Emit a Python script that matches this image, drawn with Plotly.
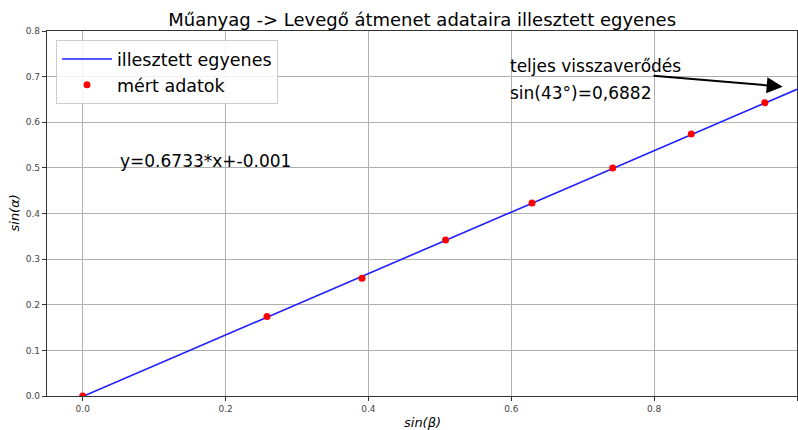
import plotly.graph_objects as go

# measured data
sin_beta = [0.0, 0.258, 0.391, 0.508, 0.629, 0.742, 0.852, 0.955]
sin_alpha = [0.0, 0.174, 0.258, 0.342, 0.423, 0.500, 0.574, 0.643]

# fitted line
slope = 0.6733
intercept = -0.001
fit_x = [0.0, 1.0]
fit_y = [slope * v + intercept for v in fit_x]

x_ticks = [0.0, 0.2, 0.4, 0.6, 0.8, 1.0]
y_ticks = [0.0, 0.1, 0.2, 0.3, 0.4, 0.5, 0.6, 0.7, 0.8]

FONT = "DejaVu Sans"

fig = go.Figure()
fig.add_trace(go.Scatter(x=fit_x, y=fit_y, mode="lines", name="illesztett egyenes",
                         line=dict(color="#1f1fff", width=1.6)))
fig.add_trace(go.Scatter(x=sin_beta, y=sin_alpha, mode="markers", name="mért adatok",
                         marker=dict(color="#ff0000", size=7)))

fig.add_annotation(x=0.05, y=0.515, text="y=0.6733*x+-0.001", showarrow=False,
                   xanchor="left", yanchor="middle", font=dict(size=17, color="black", family=FONT))
fig.add_annotation(x=0.6, y=0.724, text="teljes visszaverődés", showarrow=False,
                   xanchor="left", yanchor="middle", xshift=-3,
                   font=dict(size=17, color="black", family=FONT))
fig.add_annotation(x=0.6, y=0.664, text="sin(43°)=0,6882", showarrow=False,
                   xanchor="left", yanchor="middle", xshift=-3,
                   font=dict(size=17, color="black", family=FONT))
fig.add_annotation(x=0.98, y=0.678, ax=0.797, ay=0.702, xref="x", yref="y", axref="x", ayref="y",
                   text="", showarrow=True, arrowhead=2, arrowsize=1.6, arrowwidth=2.0, arrowcolor="black")

# axis titles
fig.add_annotation(x=0.5, y=0, xref="paper", yref="paper", yshift=-26, text="<i>sin(β)</i>",
                   showarrow=False, xanchor="center", yanchor="middle",
                   font=dict(size=13, color="black", family=FONT))
fig.add_annotation(x=0, y=0.5, xref="paper", yref="paper", xshift=-33, text="<i>sin(α)</i>",
                   showarrow=False, xanchor="center", yanchor="middle", textangle=-90,
                   font=dict(size=13, color="black", family=FONT))

axis_common = dict(showgrid=True, gridcolor="#b0b0b0", gridwidth=1, zeroline=False,
                   showline=True, linecolor="#333333", linewidth=1.2, mirror=True,
                   ticks="outside", ticklen=4, tickcolor="#333333", automargin=False,
                   tickfont=dict(size=9, color="#444444", family=FONT))

fig.update_layout(
    width=798, height=430,
    margin=dict(l=47, r=1, t=31, b=34, autoexpand=False),
    paper_bgcolor="white", plot_bgcolor="white",
    font=dict(family=FONT),
    title=dict(text="Műanyag -> Levegő átmenet adataira illesztett egyenes",
               x=0.529, xanchor="center", y=0.955, yanchor="middle",
               font=dict(size=18, color="black", family=FONT)),
    xaxis=dict(range=[-0.05, 1.0], tickvals=x_ticks, tickformat=".1f", **axis_common),
    yaxis=dict(range=[0.0, 0.8], tickvals=y_ticks, tickformat=".1f", **axis_common),
    legend=dict(x=0.012, y=0.975, xanchor="left", yanchor="top",
                bgcolor="rgba(255,255,255,0.85)", bordercolor="#cccccc", borderwidth=1,
                font=dict(size=17.5, color="black", family=FONT), itemwidth=50),
    showlegend=True,
)

fig.write_html("out.html", config={"displayModeBar": False},
               post_script="document.body.style.margin='0';document.body.style.overflow='hidden';")
